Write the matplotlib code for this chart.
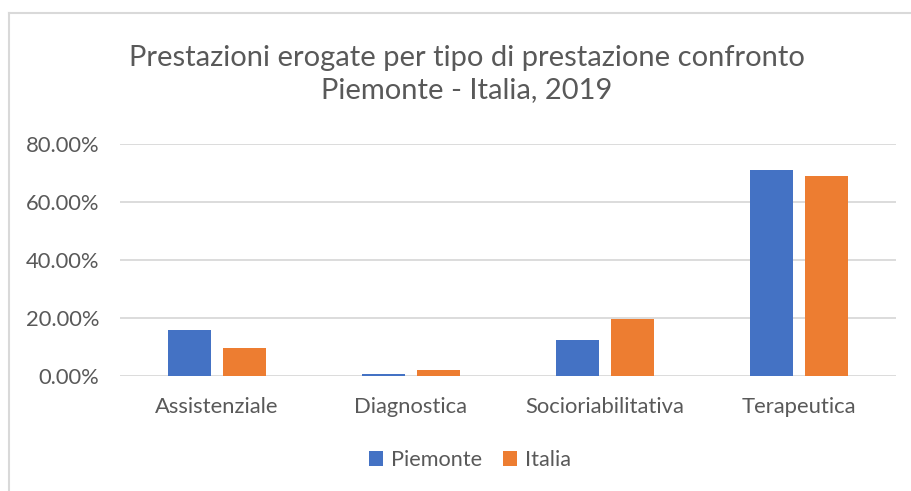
import numpy as np
import matplotlib
matplotlib.use("Agg")
import matplotlib.pyplot as plt
from matplotlib.ticker import FuncFormatter
from matplotlib.lines import Line2D

categories = ["Assistenziale", "Diagnostica", "Socioriabilitativa", "Terapeutica"]
piemonte = [0.157, 0.006, 0.123, 0.710]
italia = [0.095, 0.020, 0.195, 0.688]
series_names = ["Piemonte", "Italia"]
title = "Prestazioni erogate per tipo di prestazione confronto\nPiemonte - Italia, 2019"

blue = "#4472C4"
orange = "#ED7D31"
text_col = "#595959"
grid_col = "#D9D9D9"

plt.rcParams['font.family'] = ['Lato', 'DejaVu Sans']

fig = plt.figure(figsize=(9.12, 4.91), dpi=100)
ax = fig.add_axes([120 / 912, 115 / 491, 776 / 912, 232 / 491])

x = np.arange(len(categories))
w = 0.222
off = 0.142
ax.bar(x - off, piemonte, w, color=blue, label=series_names[0], zorder=3)
ax.bar(x + off, italia, w, color=orange, label=series_names[1], zorder=3)

ax.set_xlim(-0.5, len(categories) - 0.5)
ax.set_ylim(0, 0.8)
ax.set_yticks(np.arange(0, 0.81, 0.2))
ax.yaxis.set_major_formatter(FuncFormatter(lambda v, p: "%.2f%%" % (v * 100)))
ax.set_xticks(x)
ax.set_xticklabels(categories)
ax.grid(axis='y', color=grid_col, linewidth=1.3, zorder=0)
for s in ax.spines.values():
    s.set_visible(False)
ax.tick_params(axis='both', length=0, labelsize=15.8, colors=text_col)
ax.tick_params(axis='y', pad=15)
ax.tick_params(axis='x', pad=15)

fig.text(467 / 912, 1 - 74 / 491, title, ha='center', va='center',
         fontsize=21, color=text_col, linespacing=1.27)

leg = fig.legend(loc='center', bbox_to_anchor=(470 / 912, 1 - 460 / 491),
                 ncol=2, frameon=False, fontsize=15.6, handlelength=0.65,
                 handleheight=0.65, handletextpad=0.35, columnspacing=1.0)
for t in leg.get_texts():
    t.set_color(text_col)

# chart area border (cropped on the right and bottom)
fig.add_artist(Line2D([9 / 912, 1], [1 - 13 / 491, 1 - 13 / 491], color=grid_col, lw=1.5))
fig.add_artist(Line2D([9 / 912, 9 / 912], [0, 1 - 13 / 491], color=grid_col, lw=1.5))

fig.savefig("out.png", dpi=100)
